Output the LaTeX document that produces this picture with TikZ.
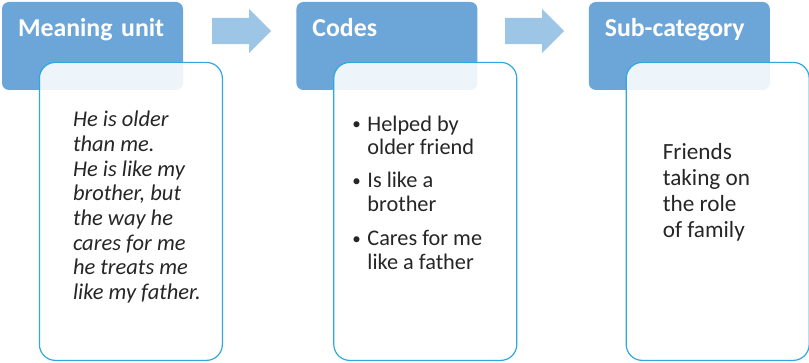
\documentclass[tikz,border=0pt]{standalone}
\usepackage{fontspec}
\setmainfont{Carlito}
\usetikzlibrary{positioning, shapes.arrows}
\definecolor{headblue}{HTML}{6CA6D9}
\definecolor{arrowblue}{HTML}{9DC6E6}
\definecolor{edgeblue}{HTML}{2EA8DF}
\definecolor{inktext}{HTML}{262626}
\newcommand{\itemdot}{\makebox[16pt][l]{\hspace{1pt}\fontsize{17}{17}\selectfont\raisebox{1.5pt}{\textbullet}}}
\tikzset{
  header/.style={rounded corners=7pt, fill=headblue, text=white,
    font=\fontsize{25.8}{30}\selectfont\bfseries, text width=149pt, align=left,
    inner xsep=16pt, inner ysep=0pt, text height=35pt, text depth=53pt},
  body/.style={draw=edgeblue, line width=1.2pt, rounded corners=16pt,
    fill=white, fill opacity=0.88, minimum width=183pt, minimum height=298pt,
    inner sep=0pt},
  flowarrow/.style={single arrow, single arrow head extend=9pt, fill=arrowblue,
    minimum width=44pt, minimum height=59pt, inner xsep=0pt, inner ysep=13pt,
    anchor=tail},
  bodytext/.style={anchor=north west, inner sep=0pt, align=left, text=inktext},
}

\begin{document}
\begin{tikzpicture}
  \useasboundingbox (0,0) rectangle (809pt,-363pt);

  % headings
  \node[header]                 (mu) at (92.5pt,-46pt) {Meaning unit};
  \node[header, right=113pt of mu] (cd) {Codes};
  \node[header, right=111pt of cd] (sc) {Sub-category};

  % arrows between the headings
  \node[flowarrow] (ar1) at (212pt,-31pt) {};
  \node[flowarrow] (ar2) at (505pt,-31pt) {};

  % content boxes
  \node[body, below right=60pt and 37pt of mu.north west] (mub) {};
  \node[body, below right=60pt and 37pt of cd.north west] (cdb) {};
  \node[body, below right=60pt and 37pt of sc.north west] (scb) {};

  \node[bodytext, font=\fontsize{22.5}{24.7}\selectfont\itshape,
        below right=49pt and 34pt of mub.north west] (quote)
    {He is older\\ than me.\\ He is like my\\ brother, but\\ the way he\\
     cares for me\\ he treats me\\ like my father.};

  \node[bodytext, font=\fontsize{22.3}{23.5}\selectfont,
        below right=54pt and 18pt of cdb.north west] (codes)
    {\itemdot Helped by\\ \hspace*{16pt}older friend\\[9.5pt]
     \itemdot Is like a\\ \hspace*{16pt}brother\\[11pt]
     \itemdot Cares for me\\ \hspace*{16pt}like a father};

  \node[bodytext, font=\fontsize{23.2}{26}\selectfont,
        below right=81pt and 37pt of scb.north west] (cat)
    {Friends\\ taking on\\ the role\\ of family};
\end{tikzpicture}
\end{document}
